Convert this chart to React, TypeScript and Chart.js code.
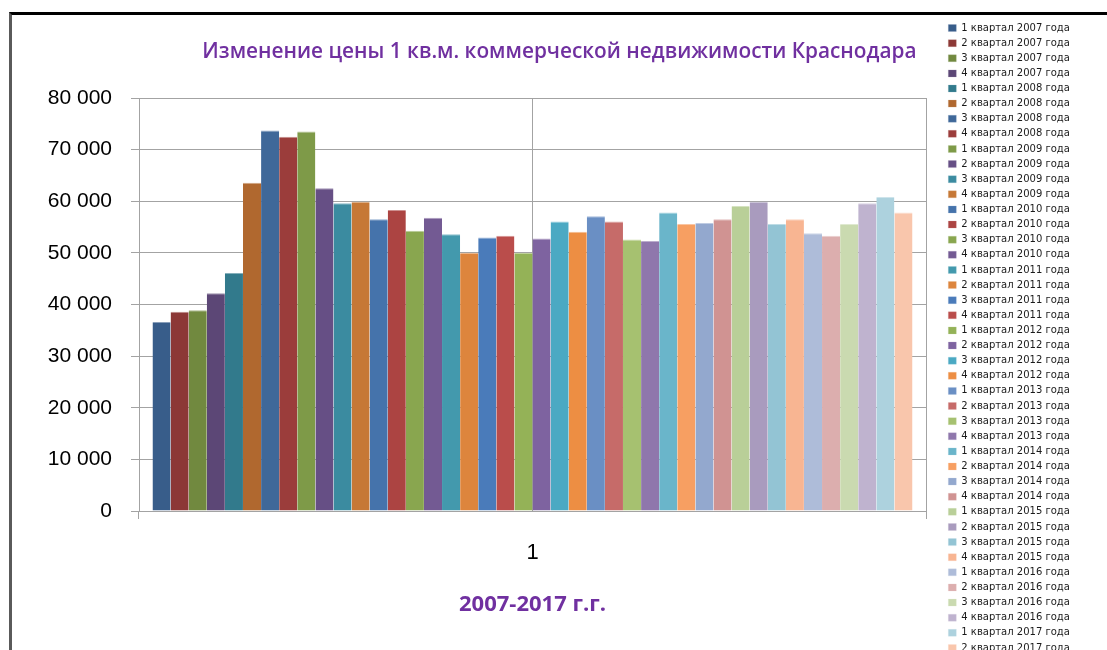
import React, { useEffect, useRef } from "react";
import { Chart, registerables } from "chart.js";

Chart.register(...registerables);

const CATEGORIES = ["1"];

const SERIES_LABELS = [
  "1 квартал 2007 года", "2 квартал 2007 года", "3 квартал 2007 года", "4 квартал 2007 года",
  "1 квартал 2008 года", "2 квартал 2008 года", "3 квартал 2008 года", "4 квартал 2008 года",
  "1 квартал 2009 года", "2 квартал 2009 года", "3 квартал 2009 года", "4 квартал 2009 года",
  "1 квартал 2010 года", "2 квартал 2010 года", "3 квартал 2010 года", "4 квартал 2010 года",
  "1 квартал 2011 года", "2 квартал 2011 года", "3 квартал 2011 года", "4 квартал 2011 года",
  "1 квартал 2012 года", "2 квартал 2012 года", "3 квартал 2012 года", "4 квартал 2012 года",
  "1 квартал 2013 года", "2 квартал 2013 года", "3 квартал 2013 года", "4 квартал 2013 года",
  "1 квартал 2014 года", "2 квартал 2014 года", "3 квартал 2014 года", "4 квартал 2014 года",
  "1 квартал 2015 года", "2 квартал 2015 года", "3 квартал 2015 года", "4 квартал 2015 года",
  "1 квартал 2016 года", "2 квартал 2016 года", "3 квартал 2016 года", "4 квартал 2016 года",
  "1 квартал 2017 года", "2 квартал 2017 года",
];

const SERIES_VALUES = [
  36600, 38600, 38900, 42200,
  46100, 63600, 73700, 72500,
  73500, 62500, 59600, 59900,
  56500, 58300, 54300, 56800,
  53600, 50000, 53000, 53300,
  50000, 52800, 56100, 54100,
  57100, 56100, 52600, 52300,
  57800, 55600, 55800, 56500,
  59100, 59900, 55600, 56500,
  53800, 53300, 55600, 59600,
  60800, 57800,
];

const SERIES_COLORS = [
  "#385D8A", "#8C3836", "#71893F", "#5C4776",
  "#327A8C", "#B0682F", "#3F6899", "#9B3D3B",
  "#7E9A48", "#664F85", "#3B8BA0", "#C67836",
  "#4573AB", "#AC4442", "#89A64F", "#735A93",
  "#4399AD", "#DD853D", "#4A7BBA", "#BA4D4B",
  "#94B257", "#7E63A0", "#4BA9C3", "#ED8E43",
  "#6A8FC4", "#C66B69", "#A6C170", "#8F77AC",
  "#6AB5CA", "#F79F62", "#93A8CE", "#D09392",
  "#B9CF98", "#A99BBE", "#93C4D4", "#F8B592",
  "#AEBCD9", "#DCAEAE", "#CADAB0", "#BFB3CF",
  "#ADD2DE", "#F9C6AC",
];

const Y_TICKS = [0, 10000, 20000, 30000, 40000, 50000, 60000, 70000, 80000];
const Y_TICK_LABELS = ["0", "10 000", "20 000", "30 000", "40 000", "50 000", "60 000", "70 000", "80 000"];

const TITLE = "Изменение цены 1 кв.м. коммерческой недвижимости Краснодара";
const X_TITLE = "2007-2017 г.г.";

const PURPLE = "#7030A0";
const GRID = "#a3a3a3";
const LEGEND_FAMILY = '"DejaVu Sans", sans-serif';
const LEGEND_SIZE = 10;
const LEGEND_PAD = 5.12;
const LEGEND_BOX_W = 8;
const LEGEND_BOX_H = 7;

function tint(hex: string, amt: number): string {
  const n = parseInt(hex.slice(1), 16);
  const r = (n >> 16) & 255, g = (n >> 8) & 255, b = n & 255;
  const m = (c: number) => Math.round(c + (255 - c) * amt);
  return `rgb(${m(r)},${m(g)},${m(b)})`;
}

export default function App() {
  const ref = useRef<HTMLCanvasElement>(null);

  useEffect(() => {
    const canvas = ref.current!;
    const W = 1086;
    const H = 700;
    canvas.width = W;
    canvas.height = H;
    const ctx = canvas.getContext("2d")!;
    ctx.font = `${LEGEND_SIZE}px ${LEGEND_FAMILY}`;
    const maxTextW = Math.max(...SERIES_LABELS.map((t) => ctx.measureText(t).width));
    const legendLeft = 931.2;
    const legendWidth = LEGEND_PAD + LEGEND_BOX_W + LEGEND_SIZE / 2 + maxTextW + 10;
    const legendRight = legendLeft + legendWidth;
    const padRight = W - legendRight;
    const padLeft = 27;
    const plotRight = 914;
    const padTop = 2.9;

    const chart = new Chart(canvas, {
      type: "bar",
      data: {
        labels: CATEGORIES,
        datasets: SERIES_LABELS.map((label, i) => ({
          label,
          data: [SERIES_VALUES[i]],
          backgroundColor: SERIES_COLORS[i],
          borderColor: tint(SERIES_COLORS[i], 0.4),
          borderWidth: { top: 1, left: 0, right: 0, bottom: 0 },
          categoryPercentage: 0.9657,
          barPercentage: 1,
          xAxisID: "x",
          yAxisID: "y",
        })),
      },
      options: {
        responsive: false,
        animation: false,
        devicePixelRatio: 1,
        layout: { padding: { left: padLeft, right: padRight, top: padTop, bottom: 0 } },
        plugins: {
          title: {
            display: true,
            text: TITLE,
            color: PURPLE,
            font: { family: '"Open Sans", sans-serif', size: 20.8, weight: "600" },
            padding: { top: 37 - padTop - 12.48, bottom: 83 - 37 - 12.48 },
          },
          legend: {
            position: "right",
            align: "start",
            labels: {
              boxWidth: LEGEND_BOX_W,
              boxHeight: LEGEND_BOX_H,
              padding: LEGEND_PAD,
              color: "#1a1a1a",
              font: { family: LEGEND_FAMILY, size: LEGEND_SIZE },
            },
          },
          tooltip: { enabled: false },
        },
        scales: {
          x: {
            type: "category",
            offset: true,
            grid: { offset: true, drawOnChartArea: false, drawTicks: true, tickLength: 8, color: GRID },
            border: { display: true, color: GRID, width: 1 },
            ticks: { font: { family: '"Liberation Sans", sans-serif', size: 22 }, color: "#000", padding: 20.8 },
            title: {
              display: true,
              text: X_TITLE,
              color: PURPLE,
              font: { family: '"Open Sans", sans-serif', size: 22, weight: "bold" },
              padding: { top: 0, bottom: 96.8 },
            },
            afterFit: (s: any) => { s.height = 204; },
          },
          x2: {
            type: "category",
            labels: CATEGORIES,
            position: "top",
            offset: true,
            grid: { offset: false, drawTicks: false, color: GRID },
            border: { display: false },
            ticks: { display: false },
            afterFit: (s: any) => { s.height = 0; },
          },
          y: {
            min: 0,
            max: 80000,
            ticks: {
              stepSize: 10000,
              font: { family: '"Liberation Sans", sans-serif', size: 21 },
              color: "#000",
              padding: 19,
              callback: (v: any) => {
                const idx = Y_TICKS.indexOf(Number(v));
                return idx >= 0 ? Y_TICK_LABELS[idx] : "";
              },
            },
            grid: { color: GRID, tickLength: 8, drawTicks: true },
            border: { display: true, color: GRID },
            afterFit: (s: any) => { s.width = 127 - padLeft; },
          },
          y2: {
            position: "right",
            min: 0,
            max: 1,
            ticks: { display: false },
            grid: { drawOnChartArea: false, drawTicks: false },
            border: { display: true, color: GRID },
            afterFit: (s: any) => { s.width = legendLeft - plotRight; },
          },
        },
      } as any,
    });
    return () => chart.destroy();
  }, []);

  return (
    <div
      style={{
        position: "absolute",
        left: 9,
        top: 12,
        width: 1098,
        height: 638,
        overflow: "hidden",
        boxSizing: "border-box",
        borderTop: "3px solid #000",
        borderLeft: "3px solid #5a5a5a",
        background: "#fff",
      }}
    >
      <canvas ref={ref} style={{ display: "block" }} />
    </div>
  );
}
